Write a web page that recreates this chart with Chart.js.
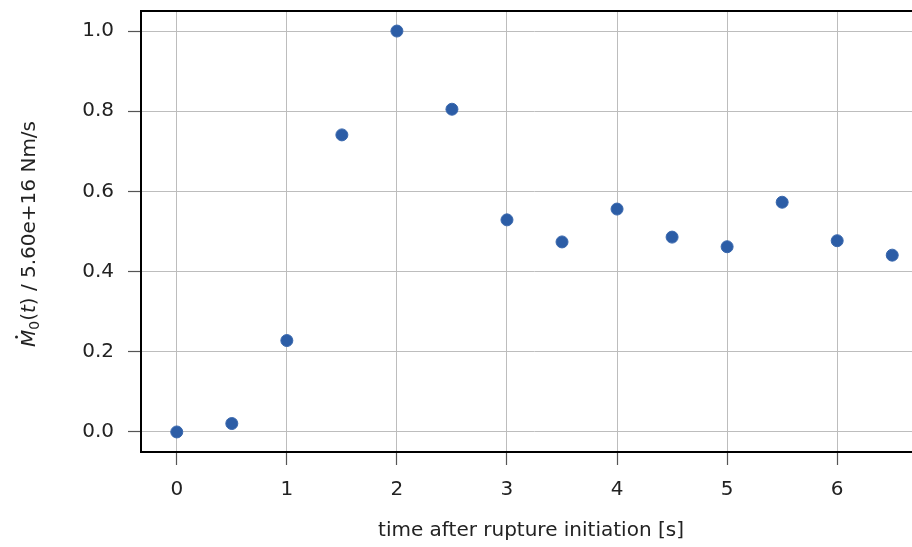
<!DOCTYPE html>
<html lang="en">
<head>
    <meta charset="UTF-8">
    <title>Moment rate</title>
    <style>
        html, body { margin: 0; padding: 0; background: #fff; overflow: hidden; }
        #wrap { width: 940px; height: 547px; }
    </style>
</head>
<body>

<div id="wrap">
    <canvas id="mr-chart" width="940" height="547"></canvas>
</div>

<script src="https://cdn.jsdelivr.net/npm/chart.js@4.4.1/dist/chart.umd.min.js"></script>
<script>

    // data
    const times = [0, 0.5, 1, 1.5, 2, 2.5, 3, 3.5, 4, 4.5, 5, 5.5, 6, 6.5];
    const moments = [0.0, 0.021, 0.228, 0.741, 1.0, 0.805, 0.529, 0.474, 0.556, 0.486, 0.462, 0.573, 0.477, 0.441];
    const xTicks = [0, 1, 2, 3, 4, 5, 6];
    const yTicks = [0.0, 0.2, 0.4, 0.6, 0.8, 1.0];
    const xLabel = "time after rupture initiation [s]";

    const FONT = "'DejaVu Sans', sans-serif";
    const TEXT = "#222";

    // frame + axis titles
    const decorations = {
        id: "decorations",
        afterDraw(chart) {
            const ctx = chart.ctx;
            const a = chart.chartArea;
            ctx.save();
            ctx.strokeStyle = "#000";
            ctx.lineWidth = 2;
            ctx.strokeRect(a.left, a.top, a.right - a.left, a.bottom - a.top);

            // x title
            ctx.fillStyle = TEXT;
            ctx.font = "20px " + FONT;
            ctx.textAlign = "center";
            ctx.textBaseline = "middle";
            ctx.fillText(xLabel, 531, 531);

            // y title, drawn in pieces for the math part
            const parts = [
                {t: "M", f: "italic 20px " + FONT, dy: 0, dot: true},
                {t: "0", f: "14px " + FONT, dy: 5},
                {t: "(", f: "20px " + FONT, dy: 0},
                {t: "t", f: "italic 20px " + FONT, dy: 0},
                {t: ") / 5.60e+16 Nm/s", f: "20px " + FONT, dy: 0}
            ];
            let total = 0;
            parts.forEach(p => { ctx.font = p.f; p.w = ctx.measureText(p.t).width; total += p.w; });
            ctx.translate(30, 234);
            ctx.rotate(-Math.PI / 2);
            ctx.textAlign = "left";
            ctx.textBaseline = "middle";
            let x = -total / 2;
            parts.forEach(p => {
                ctx.font = p.f;
                ctx.fillText(p.t, x, p.dy);
                if (p.dot) {
                    ctx.beginPath();
                    ctx.arc(x + p.w / 2 + 1.5, -13.5, 1.5, 0, Math.PI * 2);
                    ctx.fill();
                }
                x += p.w;
            });
            ctx.restore();
        }
    };

    const ctx = document.getElementById("mr-chart").getContext("2d");
    const myChart = new Chart(ctx, {
        type: "scatter",
        data: {
            datasets: [{
                label: "moment rate",
                data: times.map((t, i) => ({x: t, y: moments[i]})),
                backgroundColor: "#2c5da6",
                borderColor: "#3a68ad",
                borderWidth: 1,
                pointRadius: 6,
                pointHoverRadius: 6
            }]
        },
        options: {
            responsive: false,
            animation: false,
            events: [],
            layout: { padding: { top: 11, right: 12, left: 0, bottom: 0 } },
            plugins: {
                legend: { display: false },
                tooltip: { enabled: false }
            },
            scales: {
                x: {
                    type: "linear",
                    min: -0.325,
                    max: 6.825,
                    afterFit: (s) => { s.height = 95; s.paddingLeft = 0; s.paddingRight = 0; },
                    afterBuildTicks: (s) => { s.ticks = xTicks.map(v => ({value: v})); },
                    border: { display: false },
                    grid: { color: "#bdbdbd", lineWidth: 1, tickLength: 13, tickColor: "#555", tickWidth: 1.2 },
                    ticks: {
                        color: TEXT,
                        padding: 13,
                        font: { family: FONT, size: 20 },
                        callback: (v) => String(v)
                    }
                },
                y: {
                    type: "linear",
                    min: -0.05,
                    max: 1.05,
                    afterFit: (s) => { s.width = 141; s.paddingTop = 0; s.paddingBottom = 0; },
                    afterBuildTicks: (s) => { s.ticks = yTicks.map(v => ({value: v})); },
                    border: { display: false },
                    grid: { color: "#bdbdbd", lineWidth: 1, tickLength: 13, tickColor: "#555", tickWidth: 1.2 },
                    ticks: {
                        color: TEXT,
                        padding: 14,
                        font: { family: FONT, size: 20 },
                        callback: (v) => v.toFixed(1)
                    }
                }
            }
        },
        plugins: [decorations]
    });
</script>
</body>
</html>
